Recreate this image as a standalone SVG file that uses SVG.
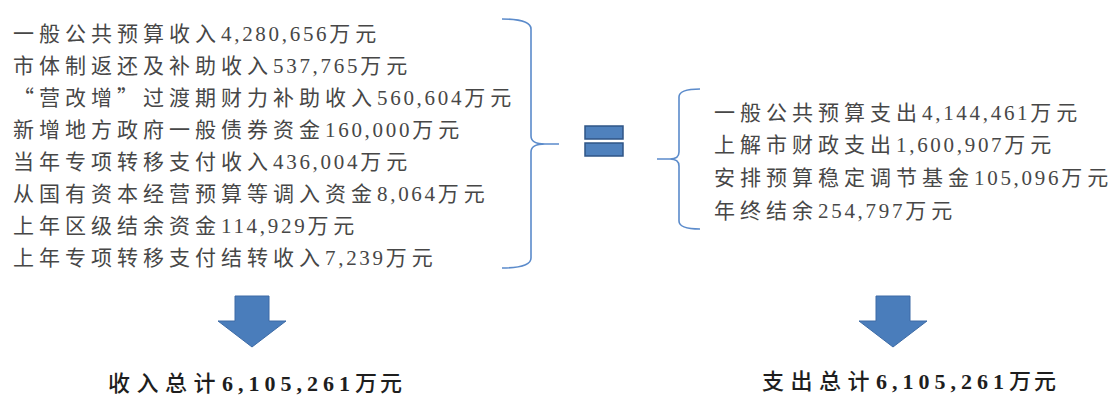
<svg xmlns="http://www.w3.org/2000/svg" width="1114" height="399" viewBox="0 0 1114 399">
<style>
.t{font-family:"Liberation Serif","Noto Sans CJK SC",serif;font-size:21px;fill:#474747}
.c{font-family:"Noto Sans CJK SC",sans-serif;letter-spacing:5px}
.n{font-family:"Liberation Serif",serif;letter-spacing:2.7px}
.b{font-family:"Liberation Serif","Noto Sans CJK SC",serif;font-size:22px;fill:#1e1e1e}
.bc{font-family:"Noto Sans CJK SC",sans-serif;letter-spacing:6.5px;font-weight:500}
.bn{font-family:"Liberation Serif",serif;letter-spacing:5px;font-weight:700}
.brace{fill:none;stroke:#5b8bcb;stroke-width:1.6}
.arrow{fill:#4a7dbb;stroke:#3d6ba6;stroke-width:1}
.eq{fill:#4f81bd;stroke:#2f5587;stroke-width:1.5}
</style>
<g id="income-list">
<text class="t" x="13" y="41"><tspan class="c">一般公共预算收入</tspan><tspan class="n">4,280,656</tspan><tspan class="c">万元</tspan></text>
<text class="t" x="13" y="73"><tspan class="c">市体制返还及补助收入</tspan><tspan class="n">537,765</tspan><tspan class="c">万元</tspan></text>
<text class="t" x="13" y="105"><tspan class="c">“营改增”过渡期财力补助收入</tspan><tspan class="n">560,604</tspan><tspan class="c">万元</tspan></text>
<text class="t" x="13" y="137"><tspan class="c">新增地方政府一般债券资金</tspan><tspan class="n">160,000</tspan><tspan class="c">万元</tspan></text>
<text class="t" x="13" y="169"><tspan class="c">当年专项转移支付收入</tspan><tspan class="n">436,004</tspan><tspan class="c">万元</tspan></text>
<text class="t" x="13" y="201"><tspan class="c">从国有资本经营预算等调入资金</tspan><tspan class="n">8,064</tspan><tspan class="c">万元</tspan></text>
<text class="t" x="13" y="233"><tspan class="c">上年区级结余资金</tspan><tspan class="n">114,929</tspan><tspan class="c">万元</tspan></text>
<text class="t" x="13" y="265"><tspan class="c">上年专项转移支付结转收入</tspan><tspan class="n">7,239</tspan><tspan class="c">万元</tspan></text>
</g>
<g id="income-brace">
<path class="brace" d="M502,19 Q531,19 531,29 L531,136 Q531,144 545,144 L559,144 M545,144 Q531,144 531,152 L531,258 Q531,268 502,268"/>
</g>
<g id="equals">
<rect class="eq" x="585" y="126" width="38" height="13"/>
<rect class="eq" x="585" y="143" width="38" height="13"/>
</g>
<g id="expense-brace">
<path class="brace" d="M700,89 Q679,89 679,97 L679,152 Q679,159 670,159 L657,159 M670,159 Q679,159 679,166 L679,221 Q679,229 700,229"/>
</g>
<g id="expense-list">
<text class="t" x="714" y="120"><tspan class="c">一般公共预算支出</tspan><tspan class="n">4,144,461</tspan><tspan class="c">万元</tspan></text>
<text class="t" x="714" y="152"><tspan class="c">上解市财政支出</tspan><tspan class="n">1,600,907</tspan><tspan class="c">万元</tspan></text>
<text class="t" x="714" y="185"><tspan class="c">安排预算稳定调节基金</tspan><tspan class="n">105,096</tspan><tspan class="c">万元</tspan></text>
<text class="t" x="714" y="218"><tspan class="c">年终结余</tspan><tspan class="n">254,797</tspan><tspan class="c">万元</tspan></text>
</g>
<g id="connectors">
<polygon class="arrow" points="235,296 269,296 269,321 286,321 252,347 218,321 235,321"/>
<polygon class="arrow" points="876,296 910,296 910,321 927,321 893,347 859,321 876,321"/>
</g>
<g id="income-total">
<text class="b" x="108" y="391"><tspan class="bc">收入总计</tspan><tspan class="bn">6,105,261</tspan><tspan class="bc" style="letter-spacing:3px">万元</tspan></text>
</g>
<g id="expense-total">
<text class="b" x="762" y="389"><tspan class="bc">支出总计</tspan><tspan class="bn">6,105,261</tspan><tspan class="bc" style="letter-spacing:3px">万元</tspan></text>
</g>
</svg>
